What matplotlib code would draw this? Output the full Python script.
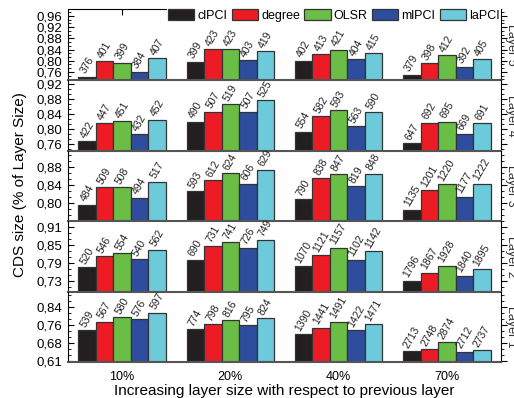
import numpy as np
import matplotlib.pyplot as plt
from matplotlib.ticker import AutoMinorLocator, FixedLocator
import matplotlib
matplotlib.rcParams['font.family'] = ['Liberation Sans', 'DejaVu Sans']

groups = ['10%', '20%', '40%', '70%']
methods = ['clPCI', 'degree', 'OLSR', 'mlPCI', 'laPCI']
colors = ['#231f20', '#ed1c24', '#6abd45', '#2e4d9e', '#6ccadb']

# ratio values (rows = group, cols = method)
layer5_ratio = [[0.743, 0.798, 0.793, 0.761, 0.809],
                [0.796, 0.842, 0.842, 0.802, 0.834],
                [0.800, 0.823, 0.839, 0.805, 0.827],
                [0.750, 0.791, 0.820, 0.779, 0.805]]
layer4_ratio = [[0.767, 0.815, 0.821, 0.785, 0.824],
                [0.819, 0.846, 0.866, 0.846, 0.876],
                [0.792, 0.833, 0.849, 0.806, 0.844],
                [0.761, 0.816, 0.819, 0.787, 0.814]]
layer3_ratio = [[0.795, 0.835, 0.834, 0.811, 0.847],
                [0.826, 0.850, 0.866, 0.842, 0.873],
                [0.808, 0.855, 0.863, 0.837, 0.864],
                [0.784, 0.828, 0.841, 0.813, 0.842]]
layer2_ratio = [[0.775, 0.811, 0.821, 0.803, 0.834],
                [0.801, 0.847, 0.858, 0.840, 0.867],
                [0.779, 0.815, 0.840, 0.801, 0.829],
                [0.730, 0.757, 0.781, 0.747, 0.768]]
layer1_ratio = [[0.739, 0.773, 0.791, 0.784, 0.810],
                [0.743, 0.762, 0.780, 0.759, 0.787],
                [0.722, 0.748, 0.773, 0.739, 0.762],
                [0.651, 0.658, 0.688, 0.649, 0.656]]

# CDS sizes printed on the bars
layer5_size = [[376, 401, 399, 384, 407], [399, 423, 423, 403, 419],
               [402, 413, 421, 404, 415], [379, 398, 412, 392, 405]]
layer4_size = [[422, 447, 451, 432, 452], [490, 507, 519, 507, 525],
               [554, 582, 593, 563, 590], [647, 692, 695, 669, 691]]
layer3_size = [[484, 509, 508, 494, 517], [593, 612, 624, 606, 629],
               [790, 838, 847, 819, 848], [1135, 1201, 1220, 1177, 1222]]
layer2_size = [[520, 546, 554, 540, 562], [690, 731, 741, 726, 749],
               [1070, 1121, 1157, 1102, 1142], [1796, 1867, 1928, 1840, 1895]]
layer1_size = [[539, 567, 580, 576, 597], [774, 798, 816, 795, 824],
               [1390, 1441, 1491, 1422, 1471], [2713, 2748, 2874, 2712, 2737]]

layer_names = ['Layer 5', 'Layer 4', 'Layer 3', 'Layer 2', 'Layer 1']
ratios = [layer5_ratio, layer4_ratio, layer3_ratio, layer2_ratio, layer1_ratio]
sizes = [layer5_size, layer4_size, layer3_size, layer2_size, layer1_size]

ylims = [(0.731, 0.985), (0.740, 0.931), (0.759, 0.915), (0.693, 0.929), (0.606, 0.896)]
yticks = [[0.76, 0.80, 0.84, 0.88, 0.92, 0.96],
          [0.76, 0.80, 0.84, 0.88, 0.92],
          [0.80, 0.84, 0.88],
          [0.73, 0.79, 0.85, 0.91],
          [0.61, 0.685, 0.76, 0.835]]
yticklabels = [['0,76', '0,80', '0,84', '0,88', '0,92', '0,96'],
               ['0,76', '0,80', '0,84', '0,88', '0,92'],
               ['0,80', '0,84', '0,88'],
               ['0,73', '0,79', '0,85', '0,91'],
               ['0,61', '0,68', '0,76', '0,84']]

W, H = 514, 398
fig = plt.figure(figsize=(W / 100, H / 100), dpi=100)
left, right = 68, 501
edges = [9, 80, 151, 221, 292, 362]

x = np.arange(len(groups))
width = 0.162
axes = []
for k in range(5):
    top, bot = edges[k], edges[k + 1]
    ax = fig.add_axes([left / W, 1 - bot / H, (right - left) / W, (bot - top) / H])
    ax.patch.set_alpha(0)
    data = np.array(ratios[k])
    bars = []
    for j in range(len(methods)):
        xs = x + (j - 2) * width
        b = ax.bar(xs, data[:, j], width=width, color=colors[j], edgecolor='#333333',
                   linewidth=0.9, label=methods[j], zorder=2)
        bars.append(b)
        for xi, yi, s in zip(xs, data[:, j], np.array(sizes[k])[:, j]):
            ax.annotate(str(s), (xi, yi), xytext=(0, 1), textcoords='offset points',
                        rotation=60, ha='center', va='bottom', fontsize=7.5,
                        color='#222222', annotation_clip=False, zorder=5)
    ax.set_xlim(-0.5, 3.5)
    ax.set_ylim(*ylims[k])
    ax.yaxis.set_major_locator(FixedLocator(yticks[k]))
    ax.set_yticklabels(yticklabels[k])
    ax.yaxis.set_minor_locator(AutoMinorLocator(3))
    ax.tick_params(axis='y', which='both', direction='in', labelsize=9.5, pad=4,
                   left=True, right=False)
    ax.tick_params(axis='y', which='major', length=4)
    ax.tick_params(axis='y', which='minor', length=2.5)
    axr = ax.twinx()
    axr.set_ylim(*ylims[k])
    axr.yaxis.set_major_locator(FixedLocator(yticks[k]))
    axr.yaxis.set_minor_locator(AutoMinorLocator(3))
    axr.tick_params(axis='y', which='both', direction='out', labelright=False)
    axr.tick_params(axis='y', which='major', length=4)
    axr.tick_params(axis='y', which='minor', length=2.5)
    for sp in axr.spines.values():
        sp.set_visible(False)
    ax.spines['bottom'].set_color('#555555')
    ax.spines['bottom'].set_linewidth(1.5)
    if k > 0:
        ax.spines['top'].set_visible(False)
    ax.set_xticks(x)
    if k == 4:
        ax.set_xticklabels(groups)
        ax.tick_params(axis='x', bottom=False, labelsize=9, pad=3)
    else:
        ax.tick_params(axis='x', bottom=False, labelbottom=False)
    if k == 0:
        ax.tick_params(axis='x', top=True, direction='in', length=4)
        leg = ax.legend(handles=bars, loc='upper right', bbox_to_anchor=(1.0, 1.02),
                        ncol=5, frameon=True, fancybox=False, edgecolor='none',
                        framealpha=1, fontsize=9, handlelength=2.1, handleheight=1.05,
                        handletextpad=0.25, columnspacing=0.35, borderpad=0.1,
                        borderaxespad=0)
        leg.set_zorder(10)
    fig.text(511 / W, 1 - (top + bot) / 2 / H, layer_names[k], rotation=270,
             ha='center', va='center', fontsize=9, color='#333333')
    axes.append(ax)

fig.text(20 / W, 1 - 185 / H, 'CDS size (% of Layer Size)', rotation=90,
         ha='center', va='center', fontsize=11)
fig.text((left + right) / 2 / W, 1 - 391 / H,
         'Increasing layer size with respect to previous layer',
         ha='center', va='center', fontsize=11)

plt.savefig('out.png', dpi=100)
